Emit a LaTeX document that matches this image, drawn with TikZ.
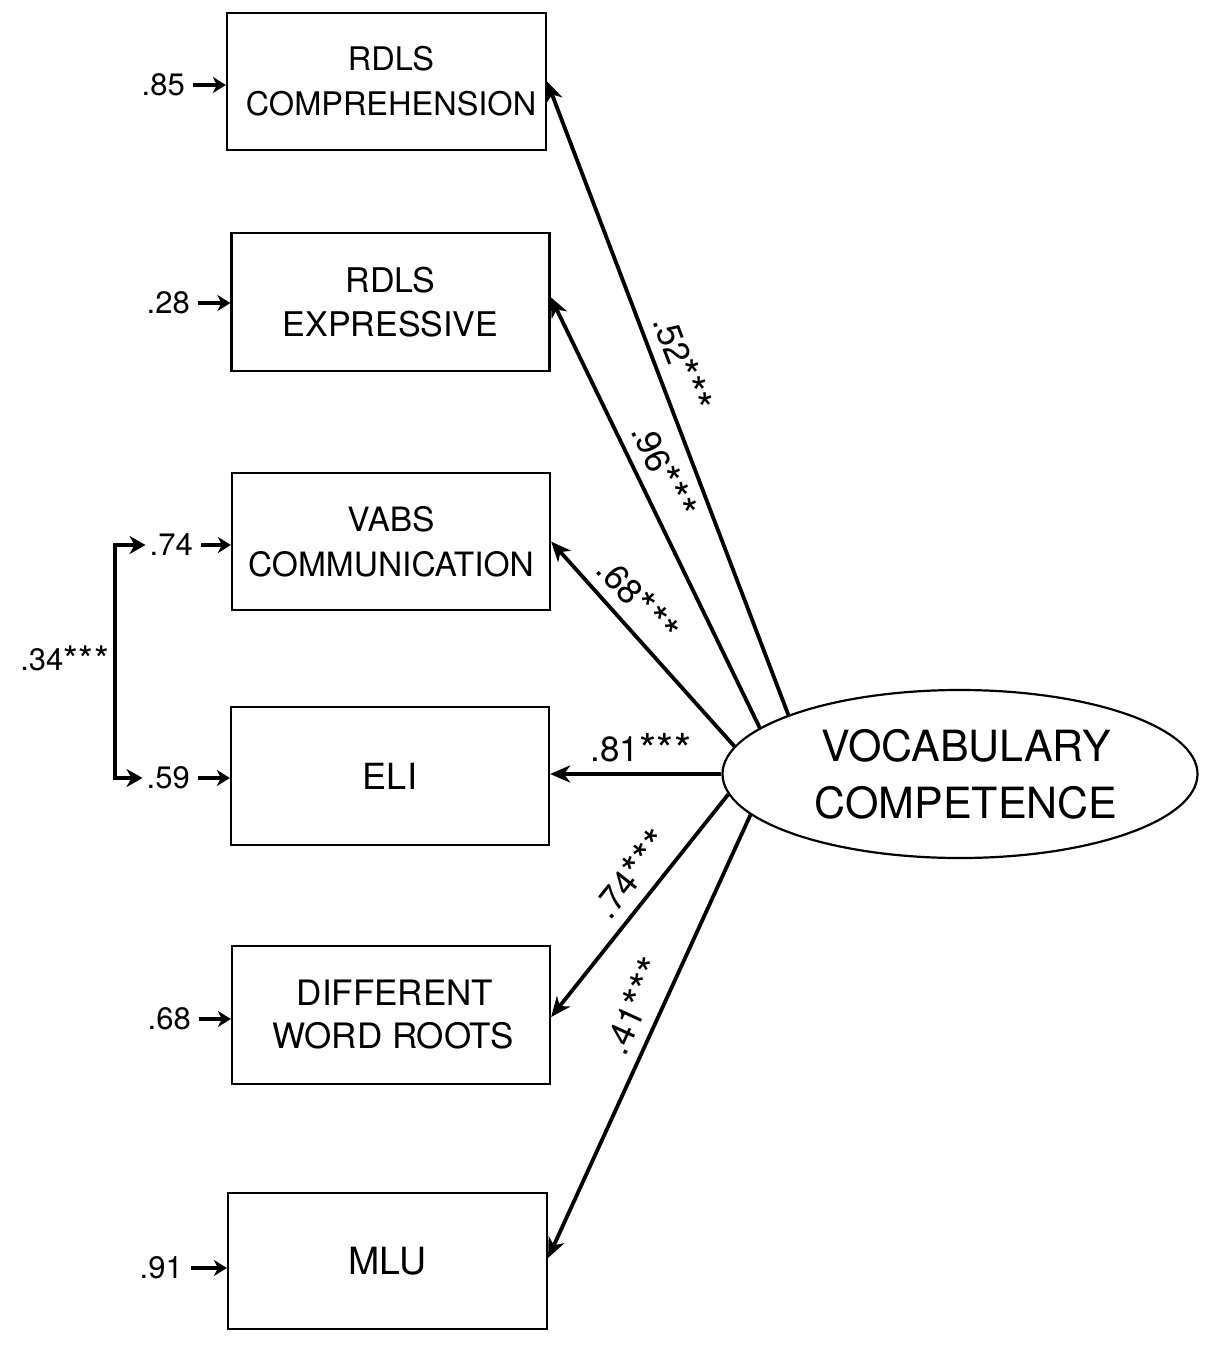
\documentclass[tikz,border=0pt]{standalone}
\usepackage{fontspec}
\setmainfont{TeX Gyre Heros}
\usetikzlibrary{arrows.meta,shapes.geometric}
\newcommand\fs[2]{\fontsize{#1}{#2}\selectfont}
\newcommand\threestars{{\fs{44}{44}\raisebox{-4pt}{*\kern0.5pt*\kern0.5pt*}}}
\newcommand\smallstars{{\fs{38}{38}\raisebox{-3pt}{*\kern0.5pt*\kern0.5pt*}}}
\begin{document}
\begin{tikzpicture}[x=1pt,y=-1pt,
 box/.style={draw, line width=2.2pt, minimum width=318pt, minimum height=137pt, align=center, inner sep=0pt},
 lv/.style={draw, line width=2.2pt, ellipse, minimum width=475pt, minimum height=168pt, align=center, inner sep=0pt, font=\fs{43}{57}},
 elab/.style={font=\fs{35}{35}, inner sep=7pt},
 errl/.style={font=\fs{31}{31}, anchor=east, inner sep=0pt},
 load/.style={line width=3.8pt, -{Stealth[length=20pt,width=17pt,inset=6pt]}},
 err/.style={line width=3.3pt, shorten <=8pt, -{Stealth[length=13pt,width=16pt,inset=4pt]}},
 cov/.style={line width=4.3pt, {Stealth[length=16pt,width=18pt,inset=5pt]}-{Stealth[length=16pt,width=18pt,inset=5pt]}},
]
\useasboundingbox (0,0) rectangle (1210,1360);

\node[box, minimum width=319pt, font=\fs{32.5}{45}] (e1) at (386.5,81.5) {\kern9pt RDLS\\\kern9pt COMPREHENSION};
\node[box, minimum height=138pt, font=\fs{34}{44}] (e2) at (390.5,302) {RDLS\\EXPRESSIVE};
\node[box, font=\fs{33.5}{45}] (e3) at (391,541.5) {VABS\\COMMUNICATION};
\node[box, minimum height=138pt, font=\fs{36}{40}] (e4) at (390,776) {ELI};
\node[box, minimum height=138pt, font=\fs{35}{43}] (e5) at (391,1015) {\kern8pt DIFFERENT\\\kern4pt WORD ROOTS};
\node[box, minimum width=319pt, minimum height=136pt, font=\fs{37.5}{40}] (e6) at (387.5,1261) {MLU};

\node[lv] (V) at (960,774) {\kern12pt VOCABULARY\\\kern12pt COMPETENCE};

\node[errl] (l1) at (185,85) {.85};
\node[errl] (l2) at (190,303) {.28};
\node[errl] (l3) at (193,545) {.74};
\node[errl] (l4) at (190,778) {.59};
\node[errl] (l5) at (191,1019) {.68};
\node[errl] (l6) at (183,1268) {.91};

\draw[err] (l1.east) -- (l1.east -| e1.west);
\draw[err] (l2.east) -- (l2.east -| e2.west);
\draw[err] (l3.east) -- (l3.east -| e3.west);
\draw[err] (l4.east) -- (l4.east -| e4.west);
\draw[err] (l5.east) -- (l5.east -| e5.west);
\draw[err] (l6.east) -- (l6.east -| e6.west);

\coordinate (bx) at (115,660);
\draw[cov] ([xshift=-4pt]l3.west) -| (bx) |- ([xshift=-4pt]l4.west);
\node[errl] (c34) at (109,660) {.34\smallstars};

\draw[load] (V.161.4) -- (e1.east) node[elab, pos=0.54, sloped, above] {.52\threestars};
\draw[load] (V.167) -- ([yshift=5pt]e2.east) node[elab, pos=0.57, sloped, above] {.96\threestars};
\draw[load] (V.173.7) -- (e3.east) node[elab, pos=0.63, sloped, above] {.68\threestars};
\draw[load] (V.west) -- (V.west -| e4.east) node[elab, pos=0.47, above] {.81\threestars};
\draw[load] (V.185.7) -- ([yshift=-2pt]e5.east) node[elab, pos=0.43, sloped, above] {.74\threestars};
\draw[load] (V.191.2) -- ([yshift=3pt]e6.east) node[elab, pos=0.456, sloped, above] {.41\threestars};
\end{tikzpicture}
\end{document}
